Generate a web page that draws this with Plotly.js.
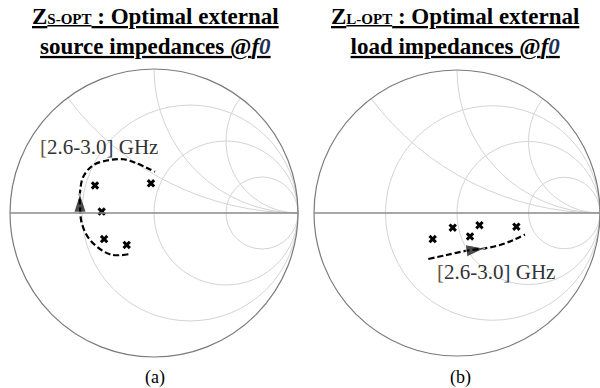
<!DOCTYPE html>
<html>
<head>
<meta charset="utf-8">
<script src="https://cdn.plot.ly/plotly-3.0.1.min.js"></script>
<style>html,body{margin:0;padding:0;background:#fff;}#chart{width:600px;height:388px;}</style>
</head>
<body>
<div id="chart"></div>
<script>
// (a) source side: optimal source impedances (normalized)
const srcPointsReal = [0.393, 0.882, 0.467, 0.459, 0.625];
const srcPointsImag = [0.189, 0.380, 0.011, -0.196, -0.303];
// (a) frequency sweep trajectory 2.6 -> 3.0 GHz
const srcPathReal = [0.603, 0.461, 0.362, 0.329, 0.320, 0.310, 0.304, 0.334, 0.419, 0.506, 0.631, 0.859];
const srcPathImag = [-0.390, -0.321, -0.177, -0.063, 0.038, 0.119, 0.220, 0.312, 0.400, 0.463, 0.502, 0.537];
const srcArrowIndex = 5;

// (b) load side: optimal load impedances (normalized)
const loadPointsReal = [0.669, 0.923, 1.131, 1.349, 2.330];
const loadPointsImag = [-0.260, -0.192, -0.384, -0.237, -0.546];
// (b) frequency sweep trajectory 2.6 -> 3.0 GHz
const loadPathReal = [0.554, 0.735, 0.987, 1.273, 1.594, 2.007, 2.524];
const loadPathImag = [-0.416, -0.475, -0.562, -0.698, -0.830, -0.937, -1.010];
const loadArrowIndex = 3;

const bandLabel = '<span style="color:#6b5636">[</span>2.6-3.0<span style="color:#24405e">]</span> GHz';
const titleA = ['Z<span style="font-size:15px">S-OPT</span> : Optimal external',
                'source impedances @<i>f<span style="color:#1c2f55">0</span></i>'];
const titleB = ['Z<span style="font-size:15px">L-OPT</span> : Optimal external',
                'load impedances @<i>f<span style="color:#1c2f55">0</span></i>'];
const panelLabels = ['(a)', '(b)'];

function arrowSizes(n, idx) { return Array.from({length: n}, (_, i) => i === idx ? 20 : 0); }

const pathLine = {color: '#000', width: 2.2, dash: '6px,3px', shape: 'spline'};
const xMarker = {symbol: 'x', size: 7.5, color: '#000', line: {width: 0}};

const traces = [
  {type: 'scattersmith', subplot: 'smith', real: srcPathReal, imag: srcPathImag, mode: 'lines+markers',
   line: pathLine, marker: {symbol: 'arrow', size: arrowSizes(srcPathReal.length, srcArrowIndex), color: '#000', angleref: 'previous'}, showlegend: false},
  {type: 'scattersmith', subplot: 'smith', real: srcPointsReal, imag: srcPointsImag, mode: 'markers', marker: xMarker, showlegend: false},
  {type: 'scattersmith', subplot: 'smith2', real: loadPathReal, imag: loadPathImag, mode: 'lines+markers',
   line: pathLine, marker: {symbol: 'arrow', size: arrowSizes(loadPathReal.length, loadArrowIndex), color: '#000', angleref: 'previous'}, showlegend: false},
  {type: 'scattersmith', subplot: 'smith2', real: loadPointsReal, imag: loadPointsImag, mode: 'markers', marker: xMarker, showlegend: false}
];

function smithAxes(domain) {
  return {
    domain: domain,
    bgcolor: 'rgba(0,0,0,0)',
    realaxis: {tickvals: [0.3333, 1, 3], showticklabels: false, ticks: '', gridcolor: '#d4d4d4', gridwidth: 1,
               showline: true, linecolor: '#8a8a8a', linewidth: 1.5},
    imaginaryaxis: {tickvals: [0.5, 1, 2], showticklabels: false, ticks: '', gridcolor: '#d4d4d4', gridwidth: 1,
                    showline: true, linecolor: '#7a7a7a', linewidth: 1.2}
  };
}

const titleFont = {family: 'Liberation Serif', size: 23, color: '#000'};
function titleText(lines) { return lines.map(l => '<b><u>' + l + '</u></b>').join('<br>'); }

const layout = {
  width: 600, height: 388,
  margin: {l: 0, r: 0, t: 0, b: 0},
  paper_bgcolor: '#fff',
  showlegend: false,
  smith: smithAxes({x: [10/600, 298/600], y: [31/388, 319/388]}),
  smith2: smithAxes({x: [314/600, 600/600], y: [32/388, 318/388]}),
  annotations: [
    {xref: 'paper', yref: 'paper', x: 155/600, y: 1 - 32/388, text: titleText(titleA), showarrow: false, font: titleFont, xanchor: 'center', yanchor: 'middle'},
    {xref: 'paper', yref: 'paper', x: 455/600, y: 1 - 32/388, text: titleText(titleB), showarrow: false, font: titleFont, xanchor: 'center', yanchor: 'middle'},
    {xref: 'paper', yref: 'paper', x: 99/600, y: 1 - 147/388, text: bandLabel, showarrow: false, font: {family: 'Liberation Serif', size: 21, color: '#333'}, xanchor: 'center', yanchor: 'middle'},
    {xref: 'paper', yref: 'paper', x: 496/600, y: 1 - 272/388, text: bandLabel, showarrow: false, font: {family: 'Liberation Serif', size: 21, color: '#333'}, xanchor: 'center', yanchor: 'middle'},
    {xref: 'paper', yref: 'paper', x: 155/600, y: 1 - 377/388, text: panelLabels[0], showarrow: false, font: {family: 'Liberation Serif', size: 18, color: '#000'}, xanchor: 'center', yanchor: 'middle'},
    {xref: 'paper', yref: 'paper', x: 460/600, y: 1 - 377/388, text: panelLabels[1], showarrow: false, font: {family: 'Liberation Serif', size: 18, color: '#000'}, xanchor: 'center', yanchor: 'middle'}
  ]
};

Plotly.newPlot('chart', traces, layout, {staticPlot: true, displayModeBar: false});
</script>
</body>
</html>
